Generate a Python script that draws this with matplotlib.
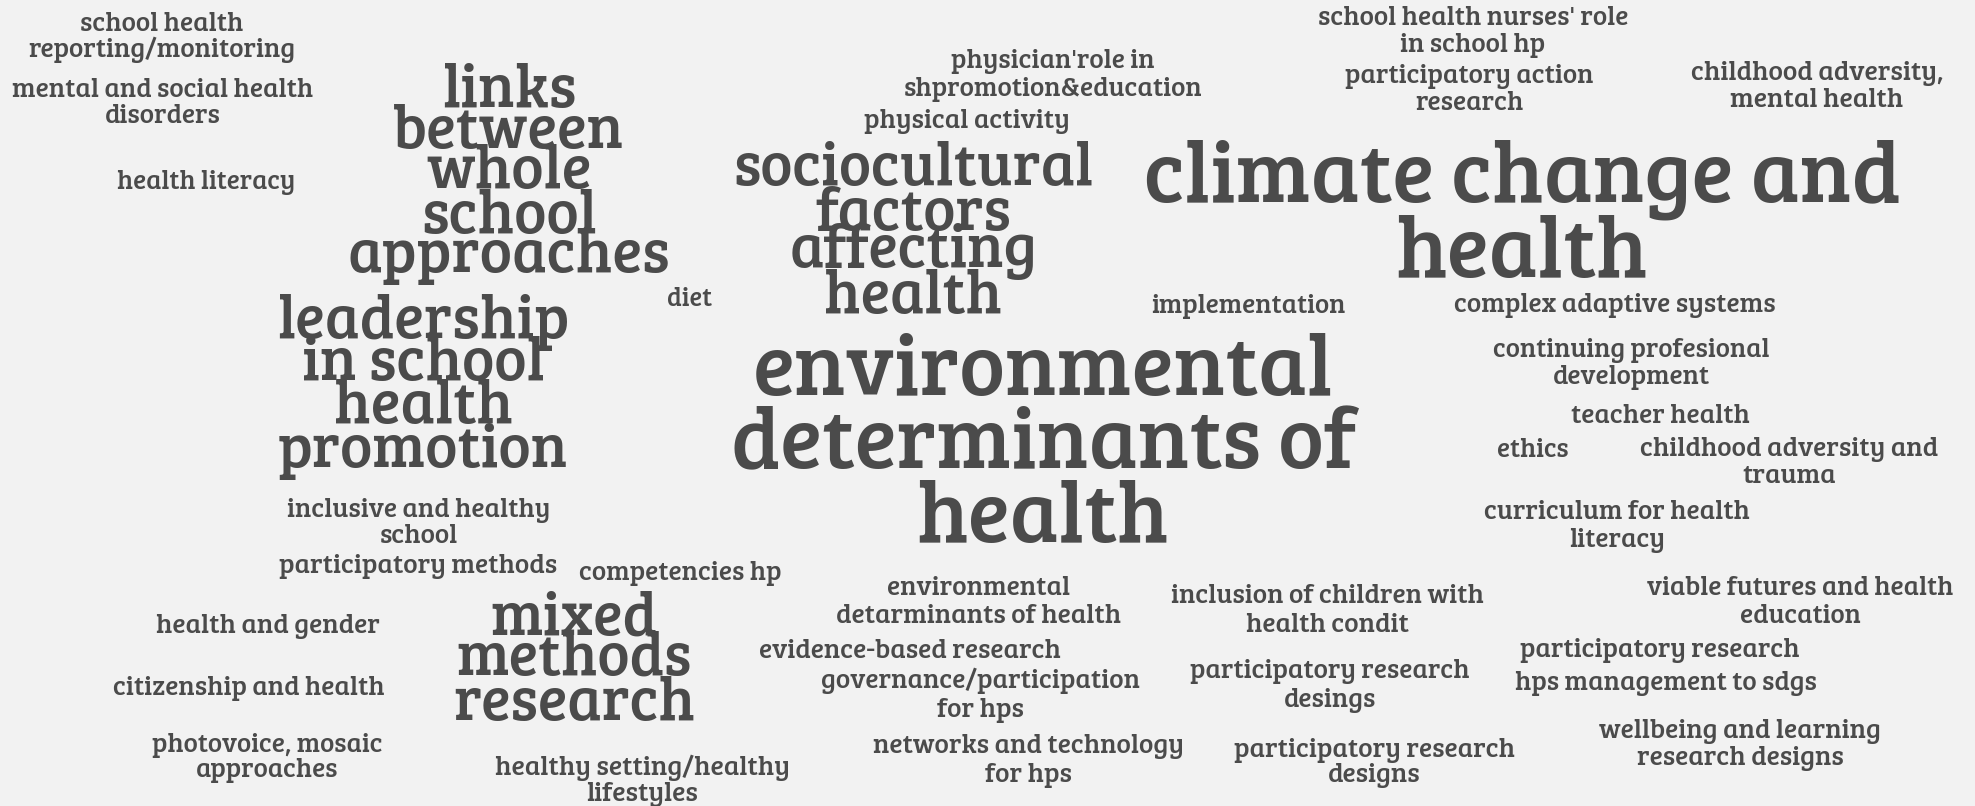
import matplotlib
matplotlib.use("Agg")
import matplotlib.pyplot as plt
from matplotlib import font_manager as fm

# ---------------- data: topics and how often each was mentioned ----------------
topics = [
    "school health reporting/monitoring",
    "mental and social health disorders",
    "health literacy",
    "links between whole school approaches",
    "leadership in school health promotion",
    "inclusive and healthy school",
    "participatory methods",
    "diet",
    "health and gender",
    "citizenship and health",
    "photovoice, mosaic approaches",
    "mixed methods research",
    "healthy setting/healthy lifestyles",
    "competencies hp",
    "environmental detarminants of health",
    "evidence-based research",
    "governance/participation for hps",
    "networks and technology for hps",
    "inclusion of children with health condit",
    "participatory research desings",
    "participatory research designs",
    "viable futures and health education",
    "participatory research",
    "hps management to sdgs",
    "wellbeing and learning research designs",
    "implementation",
    "environmental determinants of health",
    "complex adaptive systems",
    "continuing profesional development",
    "teacher health",
    "ethics",
    "childhood adversity and trauma",
    "curriculum for health literacy",
    "physician'role in shpromotion&education",
    "physical activity",
    "sociocultural factors affecting health",
    "climate change and health",
    "school health nurses' role in school hp",
    "participatory action research",
    "childhood adversity, mental health",
]
mentions = [1, 1, 1, 3, 3, 1, 1, 1, 1, 1, 1, 3, 1, 1, 1, 1, 1, 1, 1, 1,
            1, 1, 1, 1, 1, 1, 5, 1, 1, 1, 1, 1, 1, 1, 1, 3, 5, 1, 1, 1]

# ---------------- layout of the cloud (pixel space) ----------------
line_words = [
    (2, 1), (4, 1), (2,), (1, 1, 1, 1, 1), (1, 2, 1, 1), (3, 1), (2,), (1,),
    (3,), (3,), (2, 1), (1, 1, 1), (2, 1), (2,), (1, 3), (2,), (1, 2), (3, 2),
    (4, 2), (2, 1), (2, 1), (4, 1), (2,), (4,), (3, 2), (1,), (1, 2, 1), (3,),
    (2, 1), (2,), (1,), (3, 1), (3, 1), (2, 1), (2,), (1, 1, 1, 1), (3, 1),
    (4, 3), (2, 1), (2, 2),
]
center_x = [
    162, 163, 206, 509, 423, 419, 418, 690, 268, 249, 267, 574, 642, 680,
    979, 910, 980, 1028, 1327, 1330, 1374, 1800, 1660, 1666, 1740, 1248,
    1043, 1615, 1631, 1660, 1533, 1789, 1617, 1053, 967, 913, 1522, 1473,
    1469, 1817,
]
baselines = [
    [31, 57], [97, 123], [189], [107, 148, 188, 233, 272], [338, 380, 423, 467],
    [517, 543], [573], [306], [633], [695], [752, 777], [635, 675, 720],
    [775, 801], [580], [595, 623], [658], [688, 717], [753, 782], [603, 632],
    [678, 707], [757, 782], [595, 623], [657], [690], [738, 765], [313],
    [395, 468, 542], [312], [357, 384], [423], [457], [456, 483], [519, 547],
    [68, 96], [128], [185, 230, 267, 313], [202, 277], [25, 52], [83, 110],
    [80, 107],
]
fit_width = [
    267, 301, 179, 322, 292, 263, 278, 45, 224, 272, 232, 242, 295, 203,
    285, 304, 320, 311, 314, 280, 281, 308, 280, 302, 283, 195, 624, 322,
    277, 179, 72, 298, 266, 299, 206, 360, 756, 311, 249, 253,
]

# ---------------- style ----------------
BG = "#f2f2f2"
FG = "#4b4b4b"
BASE_SIZE = {1: 16, 3: 38, 5: 56}

available = {f.name for f in fm.fontManager.ttflist}
family = next((f for f in ["Bree Serif", "Roboto Slab", "Zilla Slab",
                           "Noto Serif", "DejaVu Serif"] if f in available),
              "DejaVu Serif")

W, H = 1975, 806
fig = plt.figure(figsize=(W / 100, H / 100), dpi=100, facecolor=BG)
ax = fig.add_axes([0, 0, 1, 1])
ax.set_xlim(0, W)
ax.set_ylim(H, 0)
ax.axis("off")
ax.set_facecolor(BG)
renderer = fig.canvas.get_renderer()

for topic, m, counts, cx, bls, fw in zip(topics, mentions, line_words,
                                          center_x, baselines, fit_width):
    words = topic.split(" ")
    lines, i = [], 0
    for n in counts:
        lines.append(" ".join(words[i:i + n]))
        i += n
    size = BASE_SIZE[m]
    texts = [ax.text(cx, bl, ln, ha="center", va="baseline", fontsize=size,
                     family=family, color=FG)
             for ln, bl in zip(lines, bls)]
    widest = max(t.get_window_extent(renderer).width for t in texts)
    scale = fw / widest
    for t in texts:
        t.set_fontsize(size * scale)

fig.savefig("out.png", dpi=100, facecolor=BG)
